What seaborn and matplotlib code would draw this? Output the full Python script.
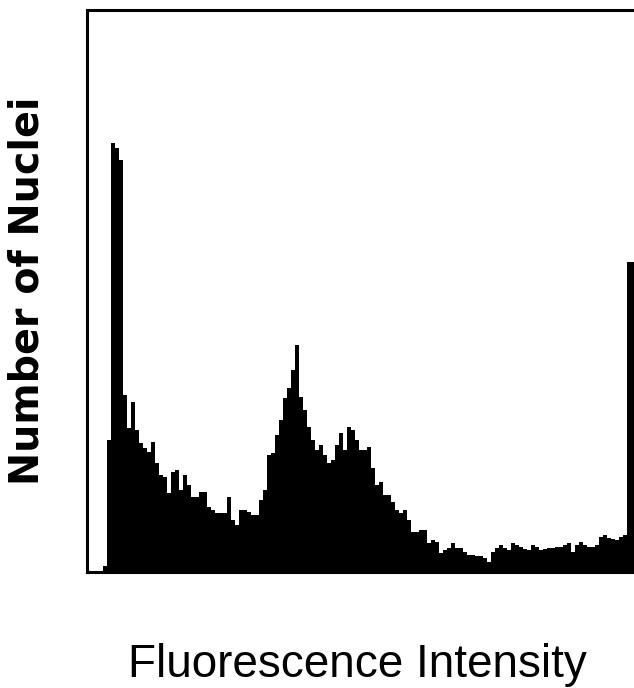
import numpy as np
import pandas as pd
import matplotlib
matplotlib.use("Agg")
import matplotlib.pyplot as plt
import seaborn as sns

# Histogram channels (fluorescence intensity) and counts (number of nuclei, arbitrary units)
channels = np.arange(137) + 0.5
counts = [
    0, 0, 0, 0, 6, 132, 429, 424, 412, 177,
    144, 170, 142, 129, 124, 120, 130, 109, 97, 95,
    79, 100, 102, 82, 97, 87, 75, 75, 80, 80,
    65, 62, 59, 59, 59, 75, 52, 47, 62, 62,
    60, 57, 57, 72, 82, 117, 119, 137, 152, 174,
    184, 202, 227, 175, 162, 145, 132, 122, 127, 117,
    109, 112, 127, 139, 122, 145, 142, 132, 122, 122,
    125, 104, 87, 90, 77, 77, 70, 62, 59, 62,
    52, 40, 40, 42, 42, 29, 32, 30, 19, 22,
    24, 29, 24, 24, 20, 17, 17, 16, 16, 14,
    10, 20, 24, 27, 24, 22, 29, 27, 25, 23,
    22, 27, 25, 22, 23, 24, 24, 25, 25, 27,
    29, 20, 27, 30, 27, 25, 25, 27, 35, 37,
    34, 33, 32, 35, 37, 310, 310,
]

x_label = "Fluorescence Intensity"
y_label = "Number of Nuclei"

df = pd.DataFrame({"channel": channels, "count": counts})

sns.set_theme(style="white")
plt.rcParams["font.family"] = ["DejaVu Sans"]

W, H = 634, 688
fig = plt.figure(figsize=(W / 100, H / 100), dpi=100)
ax = fig.add_axes([87 / W, 1 - 572 / H, (634 - 87) / W, (572 - 10) / H])

sns.histplot(data=df, x="channel", weights="count", binwidth=1, binrange=(0, 137),
             element="step", fill=True, color="black", alpha=1.0, linewidth=0, ax=ax)

ax.set_xlim(0, 136.75)
ax.set_ylim(0, 562)
ax.set_xticks([])
ax.set_yticks([])
ax.set_xlabel("")
ax.set_ylabel("")
for side in ["left", "top", "bottom"]:
    ax.spines[side].set_visible(True)
    ax.spines[side].set_color("black")
    ax.spines[side].set_linewidth(2.2)
ax.spines["right"].set_visible(False)

fig.text(28 / W, 1 - 291 / H, y_label, rotation=90, ha="center", va="center",
         fontsize=28.5, fontweight="bold", color="black", family=["DejaVu Sans"])
fig.text(357 / W, 1 - 677 / H, x_label, ha="center", va="baseline",
         fontsize=33, color="black", family=["Liberation Sans", "DejaVu Sans"])

fig.savefig("out.png", dpi=100, facecolor="white")
